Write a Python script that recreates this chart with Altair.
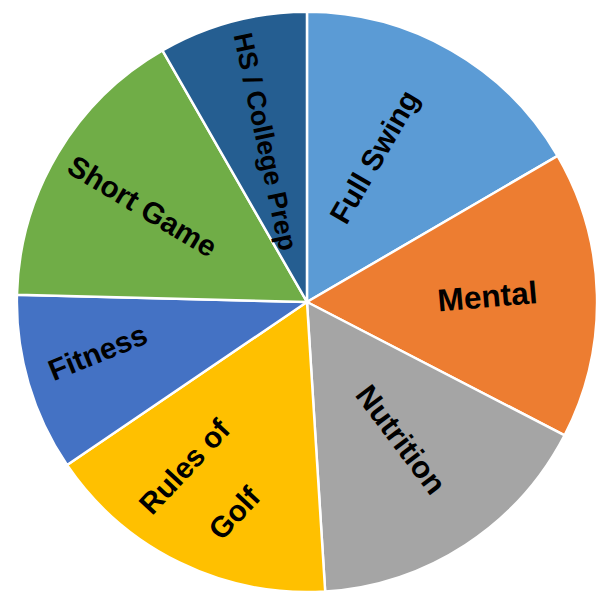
import altair as alt
import pandas as pd

# Data (clockwise from 12 o'clock)
categories = ["Full Swing", "Mental", "Nutrition", "Rules of Golf", "Fitness", "Short Game", "HS / College Prep"]
shares = [16.6, 16.0, 16.4, 16.5, 9.9, 16.3, 8.3]
label_text = ["Full Swing", "Mental", "Nutrition", "Rules of\nGolf", "Fitness", "Short Game", "HS / College Prep"]
colors = ["#5B9BD5", "#ED7D31", "#A5A5A5", "#FFC000", "#4472C4", "#70AD47", "#255E91"]

# Label layout (style only)
label_radius = [162, 183, 169, 215, 218, 193, 168]
label_shift_deg = [-4.5, 0, -0.7, 1, 2.5, -1, 0]
label_rotation = [-60, -5, 53, -47, -22, 31, 78]
label_size = [30, 32, 31, 30, 30, 30, 27]
LINE_H = 69

df = pd.DataFrame({
    "idx": list(range(len(categories))),
    "category": categories,
    "share": shares,
    "label": label_text,
    "lr": label_radius,
    "shift": label_shift_deg,
    "rot": [(r + 360) % 360 for r in label_rotation],
    "fs": label_size,
})

CX, CY, R = 303, 294, 294

arcs = alt.Chart(df).mark_arc(stroke="white", strokeWidth=2.5, outerRadius=R).encode(
    theta=alt.Theta("share:Q", stack=True),
    order=alt.Order("idx:Q"),
    color=alt.Color("category:N", scale=alt.Scale(domain=categories, range=colors), legend=None),
    x=alt.value(CX),
    y=alt.value(CY),
)

labels = alt.Chart(df).transform_window(
    cum="sum(share)", sort=[alt.SortField("idx")], frame=[None, 0]
).transform_joinaggregate(
    total="sum(share)"
).transform_calculate(
    mid="(datum.cum - datum.share / 2) / datum.total * 2 * PI + datum.shift * PI / 180",
    off=f"(split(datum.label, '\\n').length - 1) * {LINE_H} / 2",
    ra="datum.rot * PI / 180",
).transform_calculate(
    px=f"{CX} + datum.lr * sin(datum.mid) + datum.off * sin(datum.ra)",
    py=f"{CY} - datum.lr * cos(datum.mid) - datum.off * cos(datum.ra)",
).mark_text(
    font="Arial", fontWeight="bold",
    lineBreak="\n", lineHeight=LINE_H, color="black", align="center", baseline="middle",
).encode(
    text="label:N",
    x=alt.X("px:Q", scale=None),
    y=alt.Y("py:Q", scale=None),
    angle=alt.Angle("rot:Q", scale=None),
    size=alt.Size("fs:Q", scale=None),
)

chart = alt.layer(arcs, labels).properties(
    width=601, height=584, padding=0, autosize="none"
).configure_view(stroke=None)

chart.save("out.html", embed_options={"renderer": "svg", "actions": False})
